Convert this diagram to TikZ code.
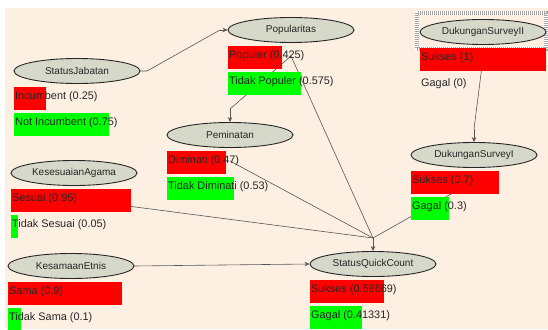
\documentclass[tikz,border=0pt]{standalone}
\usepackage{fontspec}
\setmainfont{Liberation Sans}
\usetikzlibrary{shapes.geometric,arrows.meta}

\definecolor{paper}{HTML}{FDF0E3}
\definecolor{ovalfill}{HTML}{D6D9C9}
\definecolor{probred}{HTML}{FF0000}
\definecolor{probgreen}{HTML}{00FF00}
\definecolor{linkgray}{HTML}{555555}

\pgfdeclarelayer{bg}
\pgfsetlayers{bg,main}

\tikzset{
  varnode/.style={ellipse, draw=black!85, fill=ovalfill, line width=0.9pt, minimum width=126pt, minimum height=25pt, inner sep=0pt, text=black!85, font=\fontsize{10}{12}\selectfont},
  redbar/.style={anchor=north west, fill=probred, inner sep=0pt, minimum height=23pt, minimum width=#1*126pt},
  greenbar/.style={anchor=north west, fill=probgreen, inner sep=0pt, minimum height=23pt, minimum width=#1*126pt},
  statetext/.style={anchor=west, inner sep=0pt, text=black!85, font=\fontsize{10.9}{13}\selectfont},
  link/.style={draw=linkgray, line width=0.6pt},
  linkarrow/.style={link, -{Stealth[length=5pt,width=4.5pt]}}
}

\begin{document}
\begin{tikzpicture}[x=1pt,y=-1pt]
                        \useasboundingbox (0,0) rectangle (548,329);
                        % selection frame
                        \draw[white, line width=3.5pt] (417,13) rectangle (546,49);
                        \draw[gray!70, line width=3.5pt, dash pattern=on 1pt off 1pt] (417,13) rectangle (546,49);
                        % Popularitas
                        \node[varnode] (pop) at (291,30) {Popularitas};
                        \node[redbar=0.425] (pop-s1) at (228,46) {};
                        \node[greenbar=0.575] (pop-s2) at (228,72) {};
                        \node[statetext] (pop-t1) at (229,56) {Populer (0.425)};
                        \node[statetext] (pop-t2) at (229,82) {Tidak Populer (0.575)};
                        \coordinate (pop-c) at (291,56);
                        % StatusJabatan
                        \node[varnode] (sj) at (77,71) {StatusJabatan};
                        \node[redbar=0.25] (sj-s1) at (14,87) {};
                        \node[greenbar=0.75] (sj-s2) at (14,113) {};
                        \node[statetext] (sj-t1) at (15,97) {Incumbent (0.25)};
                        \node[statetext] (sj-t2) at (15,123) {Not Incumbent (0.75)};
                        % DukunganSurveyII
                        \node[varnode] (dsii) at (483,32) {DukunganSurveyII};
                        \node[redbar=1] (dsii-s1) at (420,48) {};
                        \node[statetext] (dsii-t1) at (421,58) {Sukses (1)};
                        \node[statetext] (dsii-t2) at (421,84) {Gagal (0)};
                        \coordinate (dsii-c) at (483,58);
                        % Peminatan
                        \node[varnode] (pem) at (230,135) {Peminatan};
                        \node[redbar=0.47] (pem-s1) at (167,151) {};
                        \node[greenbar=0.53] (pem-s2) at (167,177) {};
                        \node[statetext] (pem-t1) at (168,161) {Diminati (0.47)};
                        \node[statetext] (pem-t2) at (168,187) {Tidak Diminati (0.53)};
                        \coordinate (pem-c) at (230,161);
                        % KesesuaianAgama
                        \node[varnode] (ka) at (74,173) {KesesuaianAgama};
                        \node[redbar=0.95] (ka-s1) at (11,189) {};
                        \node[greenbar=0.05] (ka-s2) at (11,215) {};
                        \node[statetext] (ka-t1) at (12,199) {Sesuai (0.95)};
                        \node[statetext] (ka-t2) at (12,225) {Tidak Sesuai (0.05)};
                        \coordinate (ka-c) at (74,199);
                        % KesamaanEtnis
                        \node[varnode] (ke) at (71,266) {KesamaanEtnis};
                        \node[redbar=0.9] (ke-s1) at (8,282) {};
                        \node[greenbar=0.1] (ke-s2) at (8,308) {};
                        \node[statetext] (ke-t1) at (9,292) {Sama (0.9)};
                        \node[statetext] (ke-t2) at (9,318) {Tidak Sama (0.1)};
                        % DukunganSurveyI
                        \node[varnode] (dsi) at (474,155) {DukunganSurveyI};
                        \node[redbar=0.7] (dsi-s1) at (411,171) {};
                        \node[greenbar=0.3] (dsi-s2) at (411,197) {};
                        \node[statetext] (dsi-t1) at (412,181) {Sukses (0.7)};
                        \node[statetext] (dsi-t2) at (412,207) {Gagal (0.3)};
                        \coordinate (dsi-c) at (474,181);
                        % StatusQuickCount
                        \node[varnode] (sqc) at (373,264) {StatusQuickCount};
                        \node[redbar=0.58669] (sqc-s1) at (310,280) {};
                        \node[greenbar=0.41331] (sqc-s2) at (310,306) {};
                        \node[statetext] (sqc-t1) at (311,290) {Sukses (0.58669)};
                        \node[statetext] (sqc-t2) at (311,316) {Gagal (0.41331)};
                        % entry points
                        \coordinate (sj-out) at (147,71);
                        \coordinate (pop-in) at (220,30);
                        \coordinate (pem-in) at (230,109);
                        \coordinate (dsi-in) at (474,129);
                        \coordinate (sqc-in) at (373,238);
                        % links
                        \begin{pgfonlayer}{bg}
                        \fill[white] (0,0) rectangle (548,329);
                        \fill[paper] (5,8) rectangle (548,329);
                        \draw[link] (sj.east) -- (sj-out) -- (pop-in);
                        \draw[linkarrow] (pop-in) -- (pop.west);
                        \draw[link] (pop-c) -- (pem-in);
                        \draw[linkarrow] (pem-in) -- (pem.north);
                        \draw[link] (dsii-c) -- (dsi-in);
                        \draw[linkarrow] (dsi-in) -- (dsi.north);
                        \draw[link] (pop-c) -- (sqc-in);
                        \draw[link] (pem-c) -- (sqc-in);
                        \draw[link] (ka-c) -- (sqc-in);
                        \draw[link] (dsi-c) -- (sqc-in);
                        \draw[linkarrow] (sqc-in) -- (sqc.north);
                        \draw[linkarrow] (ke.east) -- (sqc.west);
                        \end{pgfonlayer}
                    \end{tikzpicture}
\end{document}
